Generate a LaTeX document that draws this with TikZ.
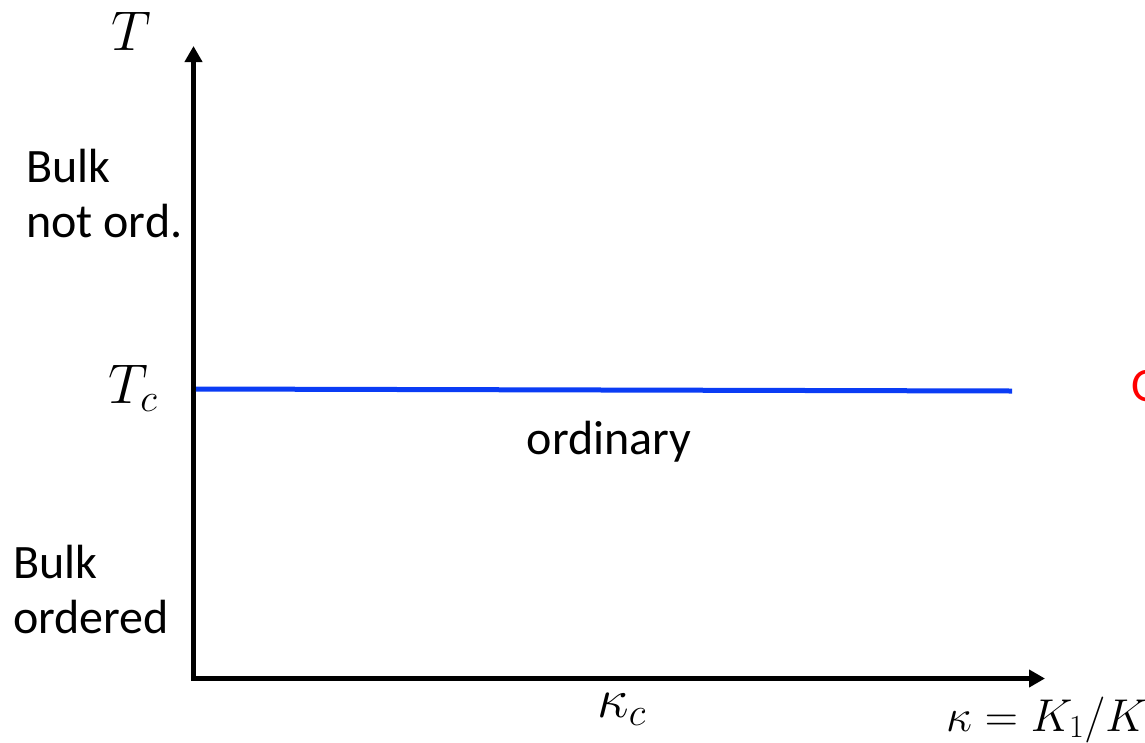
\RequirePackage{fix-cm}
\documentclass[tikz,border=0pt]{standalone}
\usepackage{fontspec}
\setmainfont{Carlito}
\usetikzlibrary{arrows.meta}
\definecolor{lineblue}{RGB}{10,60,245}
\definecolor{labelred}{RGB}{255,0,0}
\begin{document}
\begin{tikzpicture}[x=1pt,y=-1pt,
  axis/.style={line width=5pt,line join=miter,{Triangle[length=16pt,width=17pt]}-{Triangle[length=16pt,width=17pt]}},
  mathlbl/.style={inner sep=0pt,font=\fontsize{56}{60}\selectfont},
  smallmath/.style={inner sep=0pt,font=\fontsize{46}{50}\selectfont},
  txt/.style={inner sep=0pt,align=left,font=\fontsize{48}{55}\selectfont},
  tcline/.style={line width=5pt,lineblue}]
\useasboundingbox (0,0) rectangle (1145,742);
\coordinate (O) at (193.5,678.5);
\coordinate (Ytop) at (193.5,46);
\coordinate (Xend) at (1045,678.5);
\coordinate (Tc0) at (196,389);
\coordinate (Tc1) at (1012,391);
\draw[axis] (Ytop) -- (O) -- (Xend);
\draw[tcline] (Tc0) -- (Tc1);
\node[mathlbl,anchor=base west] (Tlbl) at (111,50) {$T$};
\node[mathlbl,anchor=base west] (Tclbl) at (108,403) {$T_c$};
\node[mathlbl,anchor=base west] (kclbl) at (597,717) {$\kappa_c$};
\node[smallmath,anchor=base west] (klbl) at (946,731) {$\kappa = K_1/K$};
\node[txt,anchor=base west] (upper) at (26,237) {Bulk\\not ord.};
\node[txt,anchor=base west] (lower) at (13,633) {Bulk\\ordered};
\node[txt,anchor=base] (ord) at (609,454) {ordinary};
\node[txt,anchor=base west,text=labelred] (red) at (1131,401) {O};
\end{tikzpicture}
\end{document}
